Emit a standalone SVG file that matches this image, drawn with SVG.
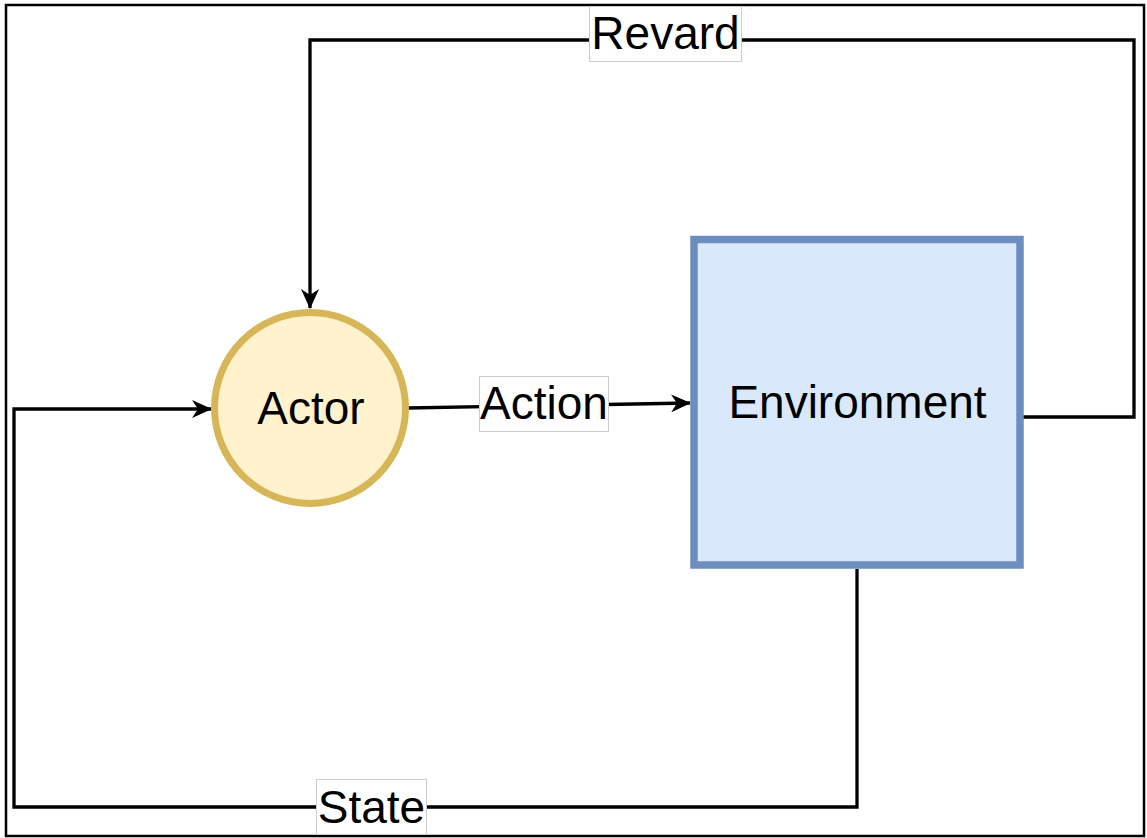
<svg xmlns="http://www.w3.org/2000/svg" width="1147" height="838" viewBox="0 0 1147 838">
  <style>
    .conn { fill: none; stroke: #000000; stroke-width: 3.3; }
    .lbl { font-family: "Liberation Sans", Arial, sans-serif; font-size: 46px; fill: #000000; text-anchor: middle; }
    .lblbox { fill: #ffffff; stroke: #cccccc; stroke-width: 1; }
  </style>
  <defs>
    <marker id="arrow" markerUnits="userSpaceOnUse" markerWidth="20" markerHeight="18" viewBox="0 0 20 18" refX="19" refY="9" orient="auto">
      <path d="M0,0 L20,9 L0,18 L6,9 Z" fill="#000000"/>
    </marker>
  </defs>
  <rect id="frame" x="6" y="5" width="1138" height="831" fill="#ffffff" stroke="#000000" stroke-width="2.5"/>
  <g id="connectors">
    <path class="conn" d="M1022,417 H1134 V40 H310 V308" marker-end="url(#arrow)"/>
    <path class="conn" d="M857,569 V807 H14 V409 H211" marker-end="url(#arrow)"/>
    <path class="conn" d="M408,408 L690,403" marker-end="url(#arrow)"/>
    <g id="label-revard">
      <rect class="lblbox" x="589.5" y="6.5" width="152" height="55"/>
      <text class="lbl" x="665.5" y="49">Revard</text>
    </g>
    <g id="label-action">
      <rect class="lblbox" x="479.5" y="376.5" width="129" height="55"/>
      <text class="lbl" x="544" y="419">Action</text>
    </g>
    <g id="label-state">
      <rect class="lblbox" x="316.5" y="779.5" width="110" height="55"/>
      <text class="lbl" x="371.5" y="823">State</text>
    </g>
  </g>
  <g id="actor">
    <circle cx="310" cy="408" r="95.5" fill="#fff2cc" stroke="#d6b656" stroke-width="7"/>
    <text class="lbl" x="311" y="424">Actor</text>
  </g>
  <g id="environment">
    <rect x="694" y="239.5" width="326" height="325.5" fill="#dae8fc" stroke="#6c8ebf" stroke-width="7.5"/>
    <text class="lbl" x="857.5" y="418">Environment</text>
  </g>
</svg>
